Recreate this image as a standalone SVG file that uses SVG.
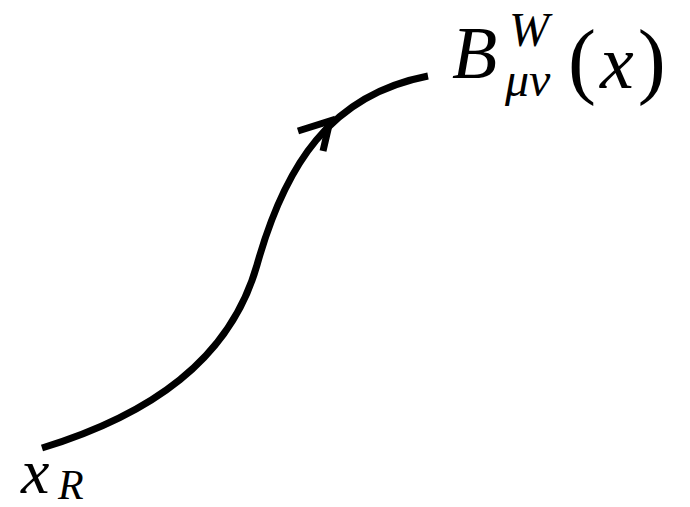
<svg xmlns="http://www.w3.org/2000/svg" width="690" height="507" viewBox="0 0 690 507">
<style>
.ln{fill:none;stroke:#000;stroke-width:7}
</style>
<rect width="690" height="507" fill="#fff"/>
<g id="connectors">
<path class="ln" d="M42,448 C150,415 230,360 257,265 C285,165 330,95 428,76"/>
<path class="ln" d="M298,131 L330,121 L323,151" stroke-width="6" stroke-linecap="butt" stroke-linejoin="miter"/>
</g>
<g font-family="Liberation Serif" fill="#000">
<g id="node-B">
<text font-style="italic" x="452" y="78" font-size="74">B</text>
<text font-style="italic" x="509" y="46" font-size="48">W</text>
<text font-style="italic" x="505" y="96" font-size="48">μν</text>
<text x="568" y="88" font-size="84">(<tspan font-style="italic" font-size="76" dx="4">x</tspan><tspan dx="4">)</tspan></text>
</g>
<g id="node-xR">
<text font-style="italic" x="21" y="493" font-size="64">x</text>
<text font-style="italic" x="58" y="499" font-size="42">R</text>
</g>
</g>
</svg>
